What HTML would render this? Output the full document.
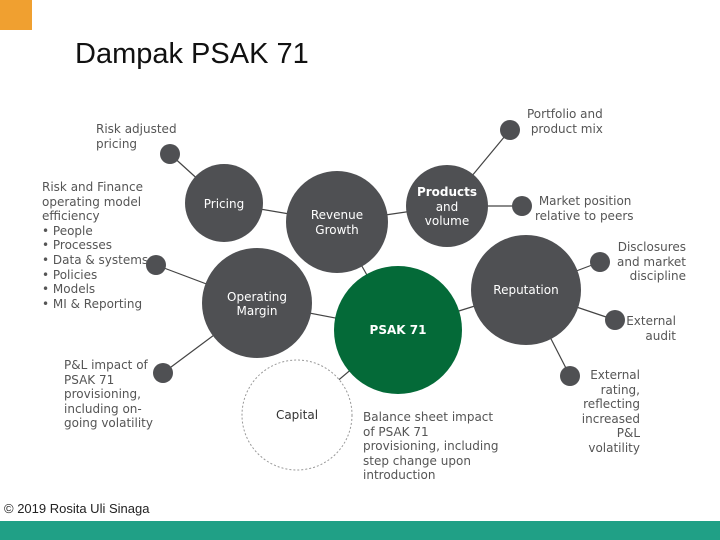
<!DOCTYPE html>
<html><head><meta charset="utf-8"><style>
body{margin:0;width:720px;height:540px;background:#fff;overflow:hidden;position:relative;font-family:"DejaVu Sans","Liberation Sans",sans-serif}
.t{position:absolute;font-size:12px;color:#555;line-height:14.6px}
</style></head><body>
<div style="position:absolute;left:0;top:0;width:32px;height:30px;background:#f0a030"></div>
<div style="position:absolute;left:75px;top:38px;font-family:'Liberation Sans',sans-serif;font-size:29px;color:#111">Dampak PSAK 71</div>
<svg width="720" height="540" style="position:absolute;left:0;top:0" font-family="DejaVu Sans, Liberation Sans, sans-serif">
<g stroke="#444" stroke-width="1.2">
<line x1="170" y1="154" x2="224" y2="203"/>
<line x1="224" y1="203" x2="337" y2="222"/>
<line x1="337" y1="222" x2="447" y2="206"/>
<line x1="447" y1="206" x2="510" y2="130"/>
<line x1="447" y1="206" x2="522" y2="206"/>
<line x1="156" y1="265" x2="257" y2="303"/>
<line x1="257" y1="303" x2="398" y2="330"/>
<line x1="163" y1="373" x2="257" y2="303"/>
<line x1="337" y1="222" x2="398" y2="330"/>
<line x1="398" y1="330" x2="526" y2="290"/>
<line x1="526" y1="290" x2="600" y2="262"/>
<line x1="526" y1="290" x2="615" y2="320"/>
<line x1="526" y1="290" x2="570" y2="376"/>
<line x1="398" y1="330" x2="297" y2="415"/>
</g>
<circle cx="297" cy="415" r="55" fill="#fff" stroke="#999" stroke-dasharray="2,2"/>
<g fill="#4f5053">
<circle cx="224" cy="203" r="39"/>
<circle cx="337" cy="222" r="51"/>
<circle cx="447" cy="206" r="41"/>
<circle cx="257" cy="303" r="55"/>
<circle cx="526" cy="290" r="55"/>
<circle cx="170" cy="154" r="10"/>
<circle cx="156" cy="265" r="10"/>
<circle cx="163" cy="373" r="10"/>
<circle cx="510" cy="130" r="10"/>
<circle cx="522" cy="206" r="10"/>
<circle cx="600" cy="262" r="10"/>
<circle cx="615" cy="320" r="10"/>
<circle cx="570" cy="376" r="10"/>
</g>
<circle cx="398" cy="330" r="64" fill="#046a38"/>
<g fill="#fff" font-size="12" text-anchor="middle">
<text x="224" y="208">Pricing</text>
<text x="337" y="219">Revenue</text><text x="337" y="234">Growth</text>
<text x="447" y="196" font-weight="bold">Products</text><text x="447" y="211">and</text><text x="447" y="225">volume</text>
<text x="257" y="301">Operating</text><text x="257" y="315">Margin</text>
<text x="526" y="294">Reputation</text>
<text x="398" y="334" font-weight="bold">PSAK 71</text>
</g>
<text x="297" y="419" font-size="12" fill="#333" text-anchor="middle">Capital</text>
</svg>
<div class="t" style="left:96px;top:122px">Risk adjusted<br>pricing</div>
<div class="t" style="left:42px;top:180px">Risk and Finance<br>operating model<br>efficiency<br>• People<br>• Processes<br>• Data &amp; systems<br>• Policies<br>• Models<br>• MI &amp; Reporting</div>
<div class="t" style="left:64px;top:358px">P&amp;L impact of<br>PSAK 71<br>provisioning,<br>including on-<br>going volatility</div>
<div class="t" style="left:527px;top:107px">Portfolio and<br>&nbsp;product mix</div>
<div class="t" style="left:535px;top:194px">&nbsp;Market position<br>relative to peers</div>
<div class="t" style="left:580px;top:240px;text-align:right;width:106px">Disclosures<br>and market<br>discipline</div>
<div class="t" style="left:600px;top:314px;text-align:right;width:76px">External<br>audit</div>
<div class="t" style="left:560px;top:368px;text-align:right;width:80px">External<br>rating,<br>reflecting<br>increased<br>P&amp;L<br>volatility</div>
<div class="t" style="left:363px;top:410px">Balance sheet impact<br>of PSAK 71<br>provisioning, including<br>step change upon<br>introduction</div>
<div style="position:absolute;left:4px;top:501px;font-size:13px;color:#222;font-family:'Liberation Sans',sans-serif">© 2019 Rosita Uli Sinaga</div>
<div style="position:absolute;left:0;top:521px;width:720px;height:19px;background:#20a086"></div>
</body></html>
